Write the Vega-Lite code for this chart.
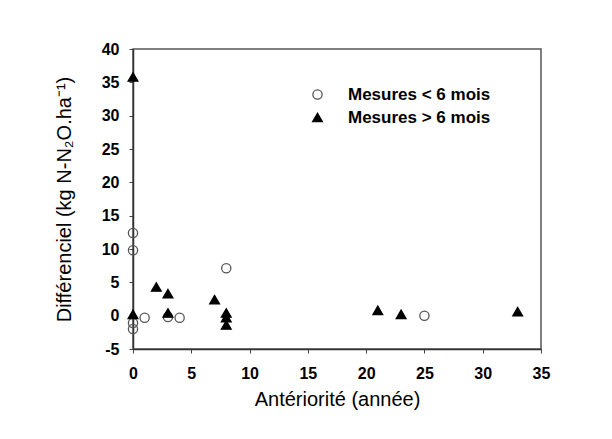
{
  "$schema": "https://vega.github.io/schema/vega-lite/v6.json",
  "width": 408,
  "height": 300,
  "autosize": {"type": "none"},
  "padding": {"left": 133, "top": 49, "right": 71, "bottom": 90},
  "background": "white",
  "config": {
    "font": "Liberation Sans",
    "view": {"stroke": "#555", "strokeWidth": 1.5}
  },
  "data": {
    "values": [
      {"anteriorite": 0, "differenciel": 12.4, "serie": "Mesures < 6 mois"},
      {"anteriorite": 0, "differenciel": 9.8, "serie": "Mesures < 6 mois"},
      {"anteriorite": 0, "differenciel": -1.1, "serie": "Mesures < 6 mois"},
      {"anteriorite": 0, "differenciel": -2.0, "serie": "Mesures < 6 mois"},
      {"anteriorite": 1, "differenciel": -0.3, "serie": "Mesures < 6 mois"},
      {"anteriorite": 3, "differenciel": -0.2, "serie": "Mesures < 6 mois"},
      {"anteriorite": 4, "differenciel": -0.3, "serie": "Mesures < 6 mois"},
      {"anteriorite": 8, "differenciel": 7.1, "serie": "Mesures < 6 mois"},
      {"anteriorite": 25, "differenciel": 0.0, "serie": "Mesures < 6 mois"},
      {"anteriorite": 0, "differenciel": 35.8, "serie": "Mesures > 6 mois"},
      {"anteriorite": 0, "differenciel": 0.2, "serie": "Mesures > 6 mois"},
      {"anteriorite": 2, "differenciel": 4.3, "serie": "Mesures > 6 mois"},
      {"anteriorite": 3, "differenciel": 3.3, "serie": "Mesures > 6 mois"},
      {"anteriorite": 3, "differenciel": 0.4, "serie": "Mesures > 6 mois"},
      {"anteriorite": 7, "differenciel": 2.4, "serie": "Mesures > 6 mois"},
      {"anteriorite": 8, "differenciel": 0.4, "serie": "Mesures > 6 mois"},
      {"anteriorite": 8, "differenciel": -0.3, "serie": "Mesures > 6 mois"},
      {"anteriorite": 8, "differenciel": -1.4, "serie": "Mesures > 6 mois"},
      {"anteriorite": 21, "differenciel": 0.8, "serie": "Mesures > 6 mois"},
      {"anteriorite": 23, "differenciel": 0.2, "serie": "Mesures > 6 mois"},
      {"anteriorite": 33, "differenciel": 0.6, "serie": "Mesures > 6 mois"}
    ]
  },
  "mark": {"type": "point", "strokeWidth": 1.3, "opacity": 1},
  "encoding": {
    "x": {
      "field": "anteriorite",
      "type": "quantitative",
      "scale": {"domain": [0, 35], "nice": false, "zero": false},
      "axis": {
        "values": [0, 5, 10, 15, 20, 25, 30, 35],
        "grid": false,
        "title": "Antériorité (année)",
        "titleFontSize": 20,
        "titleFontWeight": "normal",
        "titleColor": "#000",
        "titlePadding": 8,
        "labelFontSize": 16,
        "labelFontWeight": "bold",
        "labelColor": "#000",
        "labelPadding": 12,
        "labelFlush": false,
        "labelExpr": "'' + datum.value",
        "tickSize": 4,
        "tickColor": "#444",
        "domainColor": "#333",
        "domainWidth": 1.5
      }
    },
    "y": {
      "field": "differenciel",
      "type": "quantitative",
      "scale": {"domain": [-5, 40], "nice": false, "zero": false},
      "axis": {
        "values": [-5, 0, 5, 10, 15, 20, 25, 30, 35, 40],
        "grid": false,
        "title": "Différenciel (kg N-N₂O.ha⁻¹)",
        "titleFontSize": 20,
        "titleFontWeight": "normal",
        "titleColor": "#000",
        "titlePadding": 27,
        "labelFontSize": 16,
        "labelFontWeight": "bold",
        "labelColor": "#000",
        "labelPadding": 10,
        "labelFlush": false,
        "labelExpr": "'' + datum.value",
        "tickSize": 4,
        "tickColor": "#444",
        "domainColor": "#333",
        "domainWidth": 1.5
      }
    },
    "shape": {
      "field": "serie",
      "type": "nominal",
      "scale": {"domain": ["Mesures < 6 mois", "Mesures > 6 mois"], "range": ["circle", "triangle-up"]},
      "legend": {
        "title": null,
        "orient": "none",
        "legendX": 176,
        "legendY": 37,
        "padding": 0,
        "labelFontSize": 17,
        "labelFontWeight": "bold",
        "labelColor": "#000",
        "labelOffset": 22,
        "rowPadding": 5,
        "symbolStrokeWidth": 1.3
      }
    },
    "fill": {
      "field": "serie",
      "type": "nominal",
      "scale": {"domain": ["Mesures < 6 mois", "Mesures > 6 mois"], "range": ["transparent", "#000"]}
    },
    "stroke": {
      "field": "serie",
      "type": "nominal",
      "scale": {"domain": ["Mesures < 6 mois", "Mesures > 6 mois"], "range": ["#555", "#000"]}
    },
    "size": {
      "field": "serie",
      "type": "nominal",
      "scale": {"domain": ["Mesures < 6 mois", "Mesures > 6 mois"], "range": [85, 95]}
    }
  }
}
